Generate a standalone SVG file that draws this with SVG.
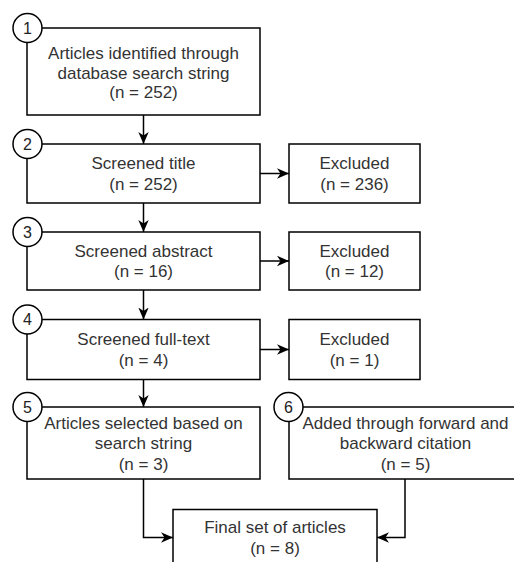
<svg xmlns="http://www.w3.org/2000/svg" width="514" height="562" viewBox="0 0 514 562">
  <style>
    .box { fill: #ffffff; stroke: #000000; stroke-width: 1.5; }
    .badge { fill: #ffffff; stroke: #000000; stroke-width: 1.5; }
    .lbl { font-family: "Liberation Sans", Arial, sans-serif; font-size: 17px; fill: #333333; text-anchor: middle; }
    .num { font-family: "Liberation Sans", Arial, sans-serif; font-size: 16px; fill: #222222; text-anchor: middle; }
    .edge { fill: none; stroke: #000000; stroke-width: 1.5; marker-end: url(#arrow); }
  </style>
  <defs>
    <marker id="arrow" markerUnits="userSpaceOnUse" markerWidth="13" markerHeight="12" viewBox="0 0 13 12" refX="12" refY="6" orient="auto">
      <path d="M0,0.8 L12,6 L0,11.2 L3.5,6 Z" fill="#000000"/>
    </marker>
  </defs>
  <rect width="514" height="562" fill="#ffffff"/>

  <!-- connectors -->
  <g id="connectors">
    <path class="edge" d="M143.5,115 L143.5,144"/>
    <path class="edge" d="M143.5,203 L143.5,232"/>
    <path class="edge" d="M143.5,290 L143.5,319.5"/>
    <path class="edge" d="M143.5,379.5 L143.5,407"/>
    <path class="edge" d="M260,173.5 L289,173.5"/>
    <path class="edge" d="M260,261 L289,261"/>
    <path class="edge" d="M260,349.5 L289,349.5"/>
    <path class="edge" d="M143.5,479 L143.5,537.5 L173,537.5"/>
    <path class="edge" d="M405,479 L405,537.5 L377,537.5"/>
  </g>

  <!-- step 1 -->
  <g id="n1">
    <rect class="box" x="27" y="28" width="233" height="87"/>
    <text class="lbl" x="143.5" y="59">Articles identified through</text>
    <text class="lbl" x="143.5" y="79">database search string</text>
    <text class="lbl" x="143.5" y="98">(n = 252)</text>
    <circle class="badge" cx="27.5" cy="28" r="14.5"/>
    <text class="num" x="27.5" y="33.5">1</text>
  </g>

  <!-- step 2 -->
  <g id="n2">
    <rect class="box" x="27" y="144" width="233" height="59"/>
    <text class="lbl" x="143.5" y="169">Screened title</text>
    <text class="lbl" x="143.5" y="190">(n = 252)</text>
    <circle class="badge" cx="27.5" cy="144" r="14.5"/>
    <text class="num" x="27.5" y="149.5">2</text>
  </g>
  <g id="x2">
    <rect class="box" x="289" y="144" width="131" height="59"/>
    <text class="lbl" x="354.5" y="169">Excluded</text>
    <text class="lbl" x="354.5" y="190">(n = 236)</text>
  </g>

  <!-- step 3 -->
  <g id="n3">
    <rect class="box" x="27" y="232" width="233" height="58"/>
    <text class="lbl" x="143.5" y="256.5">Screened abstract</text>
    <text class="lbl" x="143.5" y="277">(n = 16)</text>
    <circle class="badge" cx="27.5" cy="232" r="14.5"/>
    <text class="num" x="27.5" y="237.5">3</text>
  </g>
  <g id="x3">
    <rect class="box" x="289" y="232" width="131" height="58"/>
    <text class="lbl" x="354.5" y="256.5">Excluded</text>
    <text class="lbl" x="354.5" y="277">(n = 12)</text>
  </g>

  <!-- step 4 -->
  <g id="n4">
    <rect class="box" x="27" y="319.5" width="233" height="60"/>
    <text class="lbl" x="143.5" y="345">Screened full-text</text>
    <text class="lbl" x="143.5" y="365.5">(n = 4)</text>
    <circle class="badge" cx="27.5" cy="319.5" r="14.5"/>
    <text class="num" x="27.5" y="325">4</text>
  </g>
  <g id="x4">
    <rect class="box" x="289" y="319.5" width="131" height="60"/>
    <text class="lbl" x="354.5" y="345">Excluded</text>
    <text class="lbl" x="354.5" y="365.5">(n = 1)</text>
  </g>

  <!-- step 5 -->
  <g id="n5">
    <rect class="box" x="27" y="407" width="233" height="72"/>
    <text class="lbl" x="143.5" y="428.5">Articles selected based on</text>
    <text class="lbl" x="143.5" y="449">search string</text>
    <text class="lbl" x="143.5" y="469.5">(n = 3)</text>
    <circle class="badge" cx="27.5" cy="407" r="14.5"/>
    <text class="num" x="27.5" y="412.5">5</text>
  </g>

  <!-- step 6 -->
  <g id="n6">
    <rect class="box" x="289" y="407" width="233" height="72"/>
    <text class="lbl" x="405.5" y="428.5">Added through forward and</text>
    <text class="lbl" x="405.5" y="449">backward citation</text>
    <text class="lbl" x="405.5" y="469.5">(n = 5)</text>
    <circle class="badge" cx="288.5" cy="407" r="14.5"/>
    <text class="num" x="288.5" y="412.5">6</text>
  </g>

  <!-- result -->
  <g id="final">
    <rect class="box" x="173" y="509.5" width="204" height="57"/>
    <text class="lbl" x="275" y="533">Final set of articles</text>
    <text class="lbl" x="275" y="553.5">(n = 8)</text>
  </g>
</svg>
